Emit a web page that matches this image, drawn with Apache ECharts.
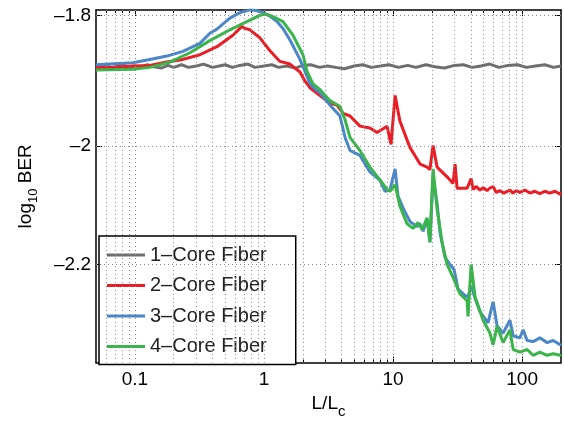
<!DOCTYPE html>
<html>
<head>
<meta charset="utf-8">
<script src="https://cdn.jsdelivr.net/npm/echarts@6/dist/echarts.min.js"></script>
<style>
html,body{margin:0;padding:0;background:#fff;}
#chart{width:564px;height:424px;}
</style>
</head>
<body>
<div id="chart"></div>
<script>
// ---- data (x = L/Lc, y = log10 BER) ----
const seriesNames = ['1\u2013Core Fiber', '2\u2013Core Fiber', '3\u2013Core Fiber', '4\u2013Core Fiber'];

const grayL = [0.05,0.055,0.06,0.066,0.073,0.08,0.09,0.1,0.11,0.125,0.14,0.16,0.18,0.2,0.23,0.26,0.3,0.34,0.4,0.45,0.5,0.57,0.65,0.75,0.85,1,1.15,1.3,1.5,1.75,2,2.3,2.7,3.1,3.6,4.2,5,5.8,6.8,8,9.3,11,13,15,18,21,25,30,35,41,48,56,66,78,92,108,127,150,175,200];
const grayV = [-1.875,-1.877,-1.874,-1.878,-1.875,-1.873,-1.877,-1.875,-1.877,-1.873,-1.876,-1.878,-1.874,-1.877,-1.873,-1.877,-1.875,-1.872,-1.877,-1.875,-1.873,-1.877,-1.874,-1.872,-1.877,-1.875,-1.873,-1.877,-1.875,-1.878,-1.874,-1.873,-1.877,-1.875,-1.877,-1.879,-1.875,-1.873,-1.877,-1.875,-1.873,-1.877,-1.874,-1.877,-1.873,-1.876,-1.878,-1.874,-1.873,-1.877,-1.875,-1.872,-1.877,-1.874,-1.873,-1.877,-1.875,-1.873,-1.877,-1.875];

const redL = [0.05,0.064,0.0965,0.1306,0.177,0.2355,0.319,0.432,0.575,0.675,0.712,0.779,0.931,1.113,1.33,1.59,1.90,2.08,2.27,2.72,3.25,3.68,4.10,4.64,5.54,6.62,7.52,8.37,8.98,9.65,10.37,11.3,13.5,16.2,18.35,19.3,20.42,21.93,26.22,29.18,30.24,31.34,37.46,40.25,41.71,44,47.1,50,53.5,56,59.6,63,67.3,72,80.4,85,90,96.1,105,115,125,137,150,164,180,197,200];
const redV = [-1.877,-1.877,-1.875,-1.874,-1.869,-1.865,-1.858,-1.846,-1.829,-1.816,-1.819,-1.821,-1.833,-1.852,-1.868,-1.872,-1.884,-1.898,-1.908,-1.920,-1.932,-1.935,-1.948,-1.952,-1.968,-1.971,-1.978,-1.972,-1.968,-1.997,-1.920,-1.960,-2.002,-2.029,-2.034,-2.038,-1.999,-2.034,-2.050,-2.061,-2.029,-2.069,-2.069,-2.053,-2.071,-2.066,-2.072,-2.068,-2.073,-2.069,-2.066,-2.076,-2.073,-2.077,-2.072,-2.077,-2.073,-2.076,-2.072,-2.077,-2.074,-2.078,-2.074,-2.077,-2.074,-2.079,-2.076];

const blueL = [0.05,0.0965,0.1306,0.177,0.2355,0.319,0.381,0.432,0.545,0.652,0.779,0.87,0.982,1.113,1.261,1.404,1.59,1.90,2.079,2.27,2.485,2.72,3.25,3.88,4.25,4.64,5.54,6.62,7.92,8.67,9.46,10.37,10.93,11.95,13.5,15.35,16.2,17.08,18.35,19.3,20.42,21.93,23.1,25.3,27.6,29.71,31.91,36.15,38.1,40.25,43.2,47.1,54.4,59.6,64.0,71.2,80.4,85.2,96.1,101.8,109.3,121.7,137,156.2,173.9,197,200];
const blueV = [-1.873,-1.870,-1.865,-1.860,-1.853,-1.841,-1.826,-1.820,-1.804,-1.796,-1.792,-1.793,-1.796,-1.801,-1.809,-1.819,-1.836,-1.865,-1.883,-1.902,-1.910,-1.916,-1.935,-1.952,-1.986,-2.007,-2.015,-2.042,-2.056,-2.074,-2.072,-2.037,-2.082,-2.102,-2.125,-2.134,-2.129,-2.142,-2.120,-2.161,-2.050,-2.094,-2.144,-2.188,-2.200,-2.209,-2.244,-2.256,-2.258,-2.238,-2.261,-2.285,-2.306,-2.267,-2.312,-2.325,-2.301,-2.330,-2.334,-2.319,-2.339,-2.341,-2.334,-2.343,-2.339,-2.347,-2.345];

const greenL = [0.05,0.0965,0.1306,0.187,0.267,0.381,0.545,0.779,0.931,1.018,1.154,1.404,1.678,2.006,2.154,2.398,2.72,3.25,3.88,4.25,4.64,5.54,6.62,7.92,8.98,9.46,10.37,11.3,12.84,14.29,15.62,16.78,18.35,19.3,20.42,21.93,23.98,26.22,29.18,33.0,37.46,38.1,40.25,43.2,49.85,56.3,59.6,64.0,71.2,80.4,85.2,96.1,109.3,121.7,137,156.2,173.9,197,200];
const greenV = [-1.881,-1.880,-1.877,-1.869,-1.855,-1.837,-1.821,-1.807,-1.800,-1.798,-1.801,-1.809,-1.829,-1.858,-1.883,-1.902,-1.911,-1.928,-1.937,-1.958,-1.986,-2.007,-2.034,-2.055,-2.071,-2.074,-2.063,-2.099,-2.129,-2.137,-2.127,-2.139,-2.119,-2.161,-2.037,-2.104,-2.161,-2.200,-2.223,-2.253,-2.265,-2.294,-2.200,-2.258,-2.301,-2.325,-2.347,-2.312,-2.343,-2.319,-2.356,-2.361,-2.356,-2.367,-2.361,-2.367,-2.364,-2.367,-2.365];

// ---- axes ----
const xMin = 0.05, xMax = 200;
const xMajorTicks = [0.1, 1, 10, 100];
const xMinorTicks = [0.06,0.07,0.08,0.09,0.2,0.3,0.4,0.5,0.6,0.7,0.8,0.9,2,3,4,5,6,7,8,9,20,30,40,50,60,70,80,90];
const yTop = -1.7922, yBottom = -2.381;
const yTicks = [-1.8, -2, -2.2];

const colors = ['#6e6e6e', '#ec1c24', '#4a87c9', '#39b54a'];
const FONT = "'Liberation Sans', Arial, Helvetica, sans-serif";

// y is drawn on a log scale of |log10 BER|
const toPair = (L, V) => L.map((x, i) => [x, -V[i]]);

const chart = echarts.init(document.getElementById('chart'), null, {renderer: 'canvas', devicePixelRatio: 1});

const baseX = {type: 'log', logBase: 10, min: xMin, max: xMax, splitLine: {show: false}};
const baseY = {type: 'log', logBase: 10, min: -yTop, max: -yBottom, inverse: true, splitLine: {show: false}};
const frameLine = {show: true, onZero: false, lineStyle: {color: '#000', width: 1.5}};

const gridMarks = [];
xMajorTicks.concat(xMinorTicks).forEach(v => gridMarks.push({xAxis: v}));
yTicks.forEach(v => gridMarks.push({yAxis: -v}));

const option = {
  animation: false,
  backgroundColor: '#fff',
  textStyle: {fontFamily: FONT},
  grid: {left: 96, top: 10, width: 465, height: 360, containLabel: false},
  xAxis: [
    Object.assign({}, baseX, {
      position: 'bottom',
      axisLine: frameLine,
      axisTick: {inside: true, length: 6, customValues: xMajorTicks, lineStyle: {color: '#000', width: 1}},
      axisLabel: {customValues: xMajorTicks, formatter: v => String(v), color: '#000', fontSize: 19, fontFamily: FONT, margin: 8},
      name: '{a|L/L}{s|c}',
      nameLocation: 'middle',
      nameGap: 20,
      nameTextStyle: {
        rich: {
          a: {fontSize: 19, fontFamily: FONT, color: '#000', lineHeight: 30, verticalAlign: 'middle'},
          s: {fontSize: 15, fontFamily: FONT, color: '#000', lineHeight: 30, verticalAlign: 'bottom'}
        }
      }
    }),
    Object.assign({}, baseX, {
      position: 'top',
      axisLine: frameLine,
      axisTick: {inside: true, length: 6, customValues: xMajorTicks, lineStyle: {color: '#000', width: 1}},
      axisLabel: {show: false}
    }),
    Object.assign({}, baseX, {
      position: 'bottom',
      axisLine: {show: false},
      axisTick: {inside: true, length: 3, customValues: xMinorTicks, lineStyle: {color: '#000', width: 1}},
      axisLabel: {show: false}
    }),
    Object.assign({}, baseX, {
      position: 'top',
      axisLine: {show: false},
      axisTick: {inside: true, length: 3, customValues: xMinorTicks, lineStyle: {color: '#000', width: 1}},
      axisLabel: {show: false}
    })
  ],
  yAxis: [
    Object.assign({}, baseY, {
      position: 'left',
      axisLine: frameLine,
      axisTick: {inside: true, length: 6, customValues: yTicks.map(v => -v), lineStyle: {color: '#000', width: 1}},
      axisLabel: {customValues: yTicks.map(v => -v), formatter: v => '\u2013' + v, color: '#000', fontSize: 19, fontFamily: FONT, margin: 5},
      name: '{a|log}{s|10}{a| BER}',
      nameLocation: 'middle',
      nameRotate: 90,
      nameGap: 56,
      nameTextStyle: {
        rich: {
          a: {fontSize: 19, fontFamily: FONT, color: '#000', lineHeight: 28, verticalAlign: 'middle'},
          s: {fontSize: 13, fontFamily: FONT, color: '#000', lineHeight: 28, verticalAlign: 'bottom'}
        }
      }
    }),
    Object.assign({}, baseY, {
      position: 'right',
      axisLine: frameLine,
      axisTick: {inside: true, length: 6, customValues: yTicks.map(v => -v), lineStyle: {color: '#000', width: 1}},
      axisLabel: {show: false}
    })
  ],
  legend: {
    data: seriesNames,
    orient: 'vertical',
    left: 99,
    top: 236,
    padding: [9, 29, 8, 8],
    itemGap: 10.5,
    itemWidth: 38,
    itemHeight: 3,
    icon: 'rect',
    borderColor: '#000',
    borderWidth: 1.5,
    borderRadius: 0,
    backgroundColor: '#fff',
    textStyle: {fontSize: 20, fontFamily: FONT, color: '#222', lineHeight: 20}
  },
  series: [
    {
      name: 'grid', type: 'line', silent: true, data: [[1, 2]], showSymbol: false, symbol: 'none',
      lineStyle: {opacity: 0}, z: 1,
      markLine: {
        silent: true, symbol: ['none', 'none'], label: {show: false},
        lineStyle: {type: [1, 3], color: '#8a8a8a', width: 1},
        emphasis: {disabled: true},
        data: gridMarks
      }
    },
    {name: seriesNames[0], type: 'line', data: toPair(grayL, grayV), symbol: 'none', color: colors[0], lineStyle: {width: 3, color: colors[0]}, z: 3},
    {name: seriesNames[1], type: 'line', data: toPair(redL, redV), symbol: 'none', color: colors[1], lineStyle: {width: 3, color: colors[1]}, z: 3},
    {name: seriesNames[2], type: 'line', data: toPair(blueL, blueV), symbol: 'none', color: colors[2], lineStyle: {width: 3, color: colors[2]}, z: 3},
    {name: seriesNames[3], type: 'line', data: toPair(greenL, greenV), symbol: 'none', color: colors[3], lineStyle: {width: 3, color: colors[3]}, z: 3}
  ]
};
chart.setOption(option);
</script>
</body>
</html>
